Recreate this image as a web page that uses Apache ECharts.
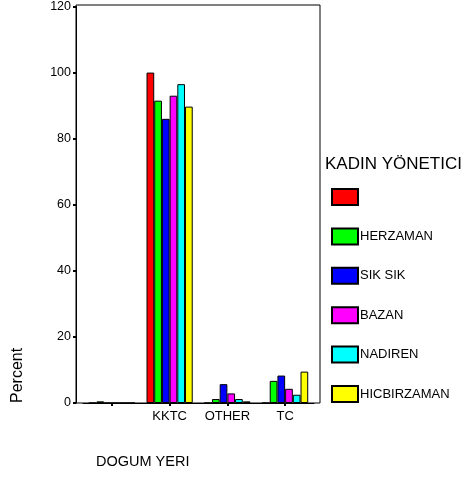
<!DOCTYPE html>
<html>
<head>
<meta charset="utf-8">
<script src="https://cdn.jsdelivr.net/npm/echarts@6/dist/echarts.min.js"></script>
<style>html,body{margin:0;padding:0;background:#fff}#c{width:468px;height:477px}</style>
</head>
<body>
<div id="c"></div>
<script>
var categories = ['', 'KKTC', 'OTHER', 'TC'];
var seriesNames = [' ', 'HERZAMAN', 'SIK SIK', 'BAZAN', 'NADIREN', 'HICBIRZAMAN'];
var seriesColors = ['#ff0000', '#00ff00', '#0000ff', '#ff00ff', '#00ffff', '#ffff00'];
var valuesBlank = [0, 0.5, 0, 0, 0, 0];
var valuesKKTC = [100, 91.5, 86.0, 93.0, 96.5, 89.7];
var valuesOTHER = [0, 1.2, 5.7, 2.9, 1.2, 0.5];
var valuesTC = [0, 6.7, 8.3, 4.3, 2.5, 9.5];
var yTicks = [0, 20, 40, 60, 80, 100, 120];

var font = 'Liberation Sans, Arial, sans-serif';
var chart = echarts.init(document.getElementById('c'), null, {renderer: 'canvas'});
var series = seriesNames.map(function (n, i) {
  return {
    name: n,
    type: 'bar',
    xAxisIndex: 0,
    yAxisIndex: 0,
    barGap: 0,
    barCategoryGap: '20%',
    itemStyle: {color: seriesColors[i], borderColor: '#000', borderWidth: 1},
    data: [valuesBlank[i], valuesKKTC[i], valuesOTHER[i], valuesTC[i]],
    animation: false
  };
});
chart.setOption({
  animation: false,
  grid: [
    {left: 83, top: 5, width: 231, bottom: 74, show: false},
    {left: 76, top: 5, width: 244, bottom: 74, show: true, borderColor: '#000', borderWidth: 1, backgroundColor: 'transparent'}
  ],
  xAxis: [
    {type: 'category', gridIndex: 0, data: categories,
     axisLine: {lineStyle: {color: '#000', width: 1}},
     axisTick: {show: true, alignWithLabel: true, interval: 0, length: 3, lineStyle: {color: '#000', width: 2}},
     axisLabel: {color: '#000', fontFamily: font, fontSize: 13, margin: 7, interval: 0, hideOverlap: false}},
    {type: 'category', gridIndex: 1, show: false, data: categories}
  ],
  yAxis: [
    {type: 'value', gridIndex: 0, min: 0, max: 120, interval: 20, offset: 7,
     axisLine: {show: true, lineStyle: {color: '#000', width: 1}},
     axisTick: {show: true, length: 3, lineStyle: {color: '#000', width: 2}},
     splitLine: {show: false},
     axisLabel: {color: '#000', fontFamily: font, fontSize: 12.5, margin: 5,
       formatter: function (v) { return yTicks.indexOf(v) >= 0 ? String(v) : ''; }}},
    {type: 'value', gridIndex: 1, show: false, min: 0, max: 120}
  ],
  legend: {
    orient: 'vertical', left: 331, top: 188, padding: 0,
    itemWidth: 26, itemHeight: 16, itemGap: 21.4,
    icon: 'rect',
    data: seriesNames,
    textStyle: {color: '#000', fontFamily: font, fontSize: 13, padding: [0, 0, 0, -3]},
    selectedMode: false
  },
  graphic: [
    {type: 'text', left: 325, top: 156, style: {text: 'KADIN YÖNETICI', fill: '#000', font: '17px ' + font}},
    {type: 'text', left: 96, top: 454, style: {text: 'DOGUM YERI', fill: '#000', font: '14.5px ' + font}},
    {type: 'text', x: 10, y: 403, rotation: Math.PI / 2, style: {text: 'Percent', fill: '#000', font: '16px ' + font}}
  ],
  series: series
});
</script>
</body>
</html>
